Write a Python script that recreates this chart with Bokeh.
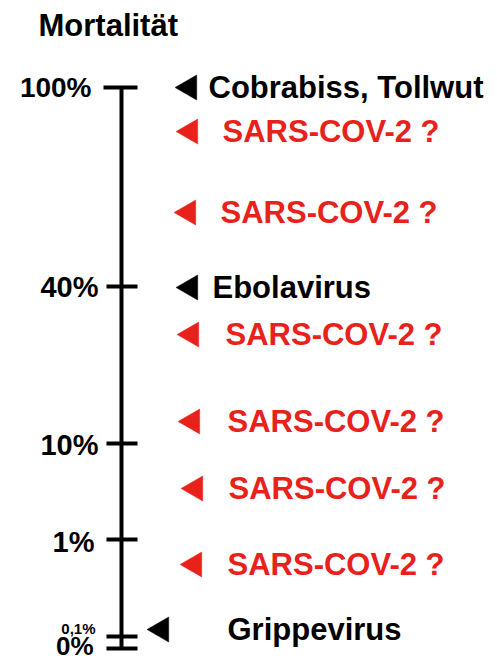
import math
from bokeh.plotting import figure
from bokeh.models import Range1d, ColumnDataSource
from bokeh.core.properties import value
from bokeh.embed import file_html
from bokeh.resources import INLINE

# ---- data ----
title_text = "Mortalität"
tick_labels = ["100%", "40%", "10%", "1%", "0,1%", "0%"]
tick_levels = [561, 362, 205, 109, 12, 0]          # schematic axis height above 0%
entry_labels = ["Cobrabiss, Tollwut", "SARS-COV-2 ?", "SARS-COV-2 ?", "Ebolavirus",
                "SARS-COV-2 ?", "SARS-COV-2 ?", "SARS-COV-2 ?", "SARS-COV-2 ?", "Grippevirus"]
entry_levels = [561, 517, 436, 361, 314, 227, 160, 84, 19]
entry_kind = ["bekannt", "SARS", "SARS", "bekannt", "SARS", "SARS", "SARS", "SARS", "bekannt"]

# ---- layout / style ----
FONT = value("Liberation Sans")
BLACK = "#000000"
RED = "#e8221b"
kind_color = {"bekannt": BLACK, "SARS": RED}

axis_x = 121
tick_x0 = [103, 106, 106, 106, 106, 106]
tick_x1 = [137, 137, 137, 137, 137, 137]
tick_label_right = [91, 98, 98, 94, 95, 93]
tick_label_dy = [0, 0, -1, -2, 8, 3]
tick_label_size = ["28px", "29px", "29px", "29px", "15px", "26px"]
marker_x = [189, 190, 188, 190, 191, 192, 195, 194, 161]
text_x = [208, 222, 220, 212, 225, 227, 228, 227, 227]

p = figure(width=497, height=663, output_backend="svg", toolbar_location=None,
           x_range=Range1d(0, 497), y_range=Range1d(-15, 648),
           min_border=0, min_border_left=0, min_border_right=0,
           min_border_top=0, min_border_bottom=0)
p.axis.visible = False
p.grid.visible = False
p.outline_line_color = None
p.background_fill_color = "white"
p.border_fill_color = "white"

# title
p.text(x=[38], y=[623], text=[title_text], text_font=FONT, text_font_style="bold",
       text_font_size="31px", text_baseline="middle", text_align="left", text_color=BLACK)

# axis line
p.segment(x0=[axis_x], y0=[min(tick_levels)], x1=[axis_x], y1=[max(tick_levels)],
          line_color=BLACK, line_width=4)

# ticks
p.segment(x0=tick_x0, y0=tick_levels, x1=tick_x1, y1=tick_levels,
          line_color=BLACK, line_width=4)

# tick labels
tsrc = ColumnDataSource(dict(x=tick_label_right,
                             y=[l + d for l, d in zip(tick_levels, tick_label_dy)],
                             text=tick_labels, size=tick_label_size))
p.text(x="x", y="y", text="text", source=tsrc, text_font=FONT, text_font_style="bold",
       text_font_size="size", text_baseline="middle", text_align="right",
       text_color=BLACK)

# entries
colors = [kind_color[k] for k in entry_kind]
esrc = ColumnDataSource(dict(mx=marker_x, tx=text_x, y=entry_levels,
                             text=entry_labels, color=colors))
p.scatter(x="mx", y="y", source=esrc, marker="triangle", size=25,
          angle=math.pi / 2, fill_color="color", line_color="color", line_width=0.5)
p.text(x="tx", y="y", text="text", source=esrc, text_font=FONT, text_font_style="bold",
       text_font_size="31px", text_baseline="middle", text_align="left",
       text_color="color")

open("out.html", "w").write(file_html(p, INLINE))
